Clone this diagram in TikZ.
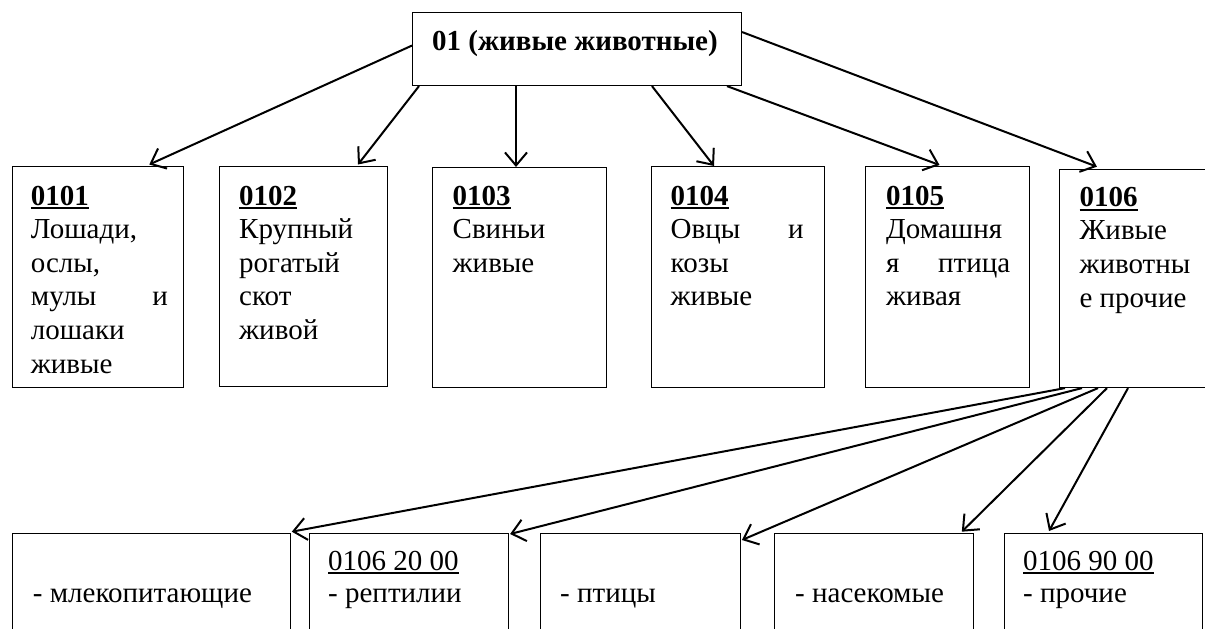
\documentclass[tikz,border=0pt]{standalone}
\usepackage{fontspec}
\setmainfont{Liberation Serif}
\usetikzlibrary{arrows.meta,calc}

% underline of given thickness
\newcommand\codeul[2]{\setbox0=\hbox{#2}\leavevmode\rlap{\vrule height -2.4pt depth \dimexpr2.4pt+#1\relax width \wd0}\box0}
\newcommand\boldcode[1]{\codeul{2pt}{\textbf{#1}}}
\newcommand\plaincode[1]{\codeul{1.3pt}{#1}}
\newcommand\boxlines[2][32.5pt]{\vtop{\baselineskip=#1\lineskiplimit=-60pt\lineskip=0pt #2}}
\newcommand\tline[1]{\hbox{#1}}
\newcommand\jline[2]{\hbox to #1{#2}}

\begin{document}
\begin{tikzpicture}[x=1pt,y=1pt,
  box/.style={draw, line width=1.1pt, rectangle, inner sep=0pt, anchor=north west},
  txt/.style={inner sep=0pt, anchor=base west, font=\fontsize{29}{32.5}\selectfont},
  arr/.style={line width=2pt, -{Straight Barb[length=13pt,width=22pt]}}]
\useasboundingbox (0,0) rectangle (1205,-629);
\clip (0,0) rectangle (1205,-629);

% top box
\node[box, minimum width=329pt, minimum height=73pt] (top) at (412,-12) {};
\node[txt] (ttop) at ($(top.north west)+(20,-38)$) {\textbf{01 (живые животные)}};

% level-2 boxes
\node[box, minimum width=170.8pt, minimum height=221pt] (b1) at (11.7,-166) {};
\node[box, minimum width=168pt, minimum height=220pt] (b2) at (219,-166) {};
\node[box, minimum width=174pt, minimum height=220pt] (b3) at (432,-167) {};
\node[box, minimum width=173pt, minimum height=221pt] (b4) at (651,-166) {};
\node[box, minimum width=164pt, minimum height=221pt] (b5) at (865,-166) {};
\node[box, minimum width=160pt, minimum height=217.7pt] (b6) at (1059.3,-169.3) {};

\node[txt] (t1) at ($(b1.north west)+(19,-39)$) {\boxlines[33.6pt]{%
  \tline{\boldcode{0101}}\tline{Лошади,}\tline{ослы,}\jline{137pt}{мулы\hfill и}\tline{лошаки}\tline{живые}}};
\node[txt] (t2) at ($(b2.north west)+(20,-39)$) {\boxlines[33.6pt]{%
  \tline{\boldcode{0102}}\tline{Крупный}\tline{рогатый}\tline{скот}\tline{живой}}};
\node[txt] (t3) at ($(b3.north west)+(20.5,-38)$) {\boxlines[33.6pt]{%
  \tline{\boldcode{0103}}\tline{Свиньи}\tline{живые}}};
\node[txt] (t4) at ($(b4.north west)+(19.5,-39)$) {\boxlines[33.6pt]{%
  \tline{\boldcode{0104}}\jline{133pt}{Овцы\hfill и}\tline{козы}\tline{живые}}};
\node[txt] (t5) at ($(b5.north west)+(21,-39)$) {\boxlines[33.6pt]{%
  \tline{\boldcode{0105}}\tline{Домашня}\jline{124pt}{я\hfill птица}\tline{живая}}};
\node[txt] (t6) at ($(b6.north west)+(20,-37)$) {\boxlines[33.6pt]{%
  \tline{\boldcode{0106}}\tline{Живые}\tline{животны}\tline{е прочие}}};

% bottom boxes
\node[box, minimum width=278.3pt, minimum height=130pt] (c1) at (11.7,-533) {};
\node[box, minimum width=199pt, minimum height=130pt] (c2) at (309,-533) {};
\node[box, minimum width=200pt, minimum height=130pt] (c3) at (540,-533) {};
\node[box, minimum width=199pt, minimum height=130pt] (c4) at (774,-533) {};
\node[box, minimum width=198pt, minimum height=130pt] (c5) at (1004,-533) {};

\node[txt] (s1) at ($(c1.north west)+(21,-69)$) {- млекопитающие};
\node[txt] (s2) at ($(c2.north west)+(19,-37)$) {\boxlines{%
  \tline{\plaincode{0106 20 00}}\tline{- рептилии}}};
\node[txt] (s3) at ($(c3.north west)+(20,-69)$) {- птицы};
\node[txt] (s4) at ($(c4.north west)+(21,-69)$) {- насекомые};
\node[txt] (s5) at ($(c5.north west)+(19,-37)$) {\boxlines{%
  \tline{\plaincode{0106 90 00}}\tline{- прочие}}};

% connectors, level 1 -> level 2
\draw[arr] ([yshift=3.5pt]top.west) -- ([xshift=137.6pt,yshift=1.5pt]b1.north west);
\draw[arr] ([xshift=7pt]top.south west) -- ([xshift=139pt,yshift=1.5pt]b2.north west);
\draw[arr] ([xshift=104pt]top.south west) -- ([xshift=84pt]b3.north west);
\draw[arr] ([xshift=240pt]top.south west) -- ([xshift=63pt]b4.north west);
\draw[arr] ([xshift=315pt]top.south west) -- ([xshift=74.5pt,yshift=1pt]b5.north west);
\draw[arr] ([yshift=17pt]top.east) -- ([xshift=37.6pt,yshift=2.6pt]b6.north west);

% connectors, 0106 -> subheadings
\draw[arr] ([xshift=5.7pt]b6.south west) -- ([xshift=0.7pt,yshift=1.3pt]c1.north east);
\draw[arr] ([xshift=22.7pt]b6.south west) -- ([xshift=1pt,yshift=-1pt]c2.north east);
\draw[arr] ([xshift=38.7pt]b6.south west) -- ([xshift=0.8pt,yshift=-7pt]c3.north east);
\draw[arr] ([xshift=47.7pt]b6.south west) -- ([xshift=-12.3pt,yshift=1.3pt]c4.north east);
\draw[arr] ([xshift=68.7pt]b6.south west) -- ([xshift=45pt,yshift=2pt]c5.north west);
\end{tikzpicture}
\end{document}
